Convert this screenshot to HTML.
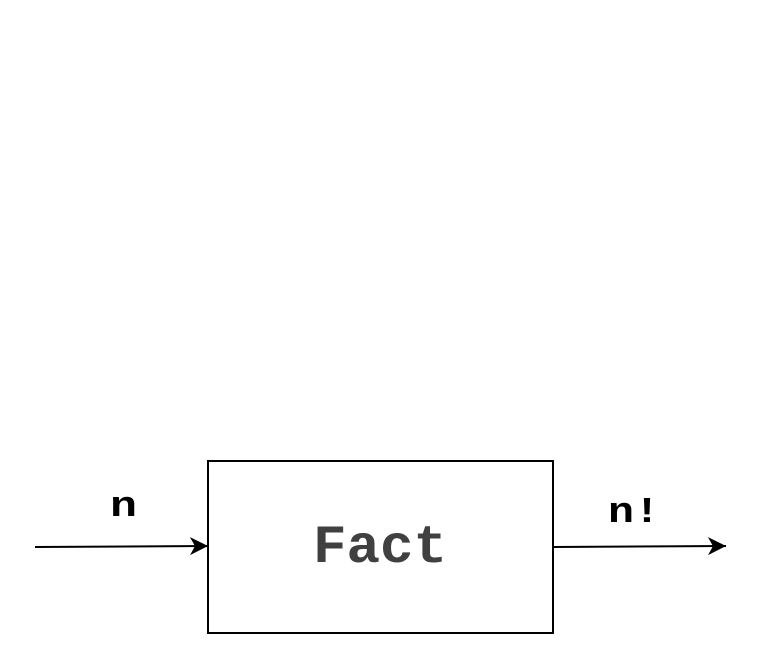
<!DOCTYPE html>
<html><head><style>
html,body{margin:0;padding:0;background:#fff;width:762px;height:652px;overflow:hidden}
</style></head><body>
<svg width="762" height="652" xmlns="http://www.w3.org/2000/svg">
<defs><marker id="a" markerWidth="20" markerHeight="20" refX="18" refY="9" orient="auto" markerUnits="userSpaceOnUse"><path d="M0,0 L18,9 L0,18 L5,9 Z" fill="#000"/></marker></defs>
<rect x="208" y="461" width="345" height="172" fill="#fff" stroke="#000" stroke-width="2"/>
<text x="313" y="562" textLength="134" lengthAdjust="spacingAndGlyphs" font-family="Liberation Mono, monospace" font-weight="bold" font-size="54" fill="#404040">Fact</text>
<line x1="35" y1="547" x2="208" y2="546" stroke="#000" stroke-width="2" marker-end="url(#a)"/>
<line x1="553" y1="547" x2="726" y2="546" stroke="#000" stroke-width="2" marker-end="url(#a)"/>
<text x="110" y="516" textLength="27" lengthAdjust="spacingAndGlyphs" font-family="Liberation Mono, monospace" font-weight="bold" font-size="36">n</text>
<text x="608" y="522" textLength="52" lengthAdjust="spacingAndGlyphs" font-family="Liberation Mono, monospace" font-weight="bold" font-size="36">n!</text>
</svg>
</body></html>
